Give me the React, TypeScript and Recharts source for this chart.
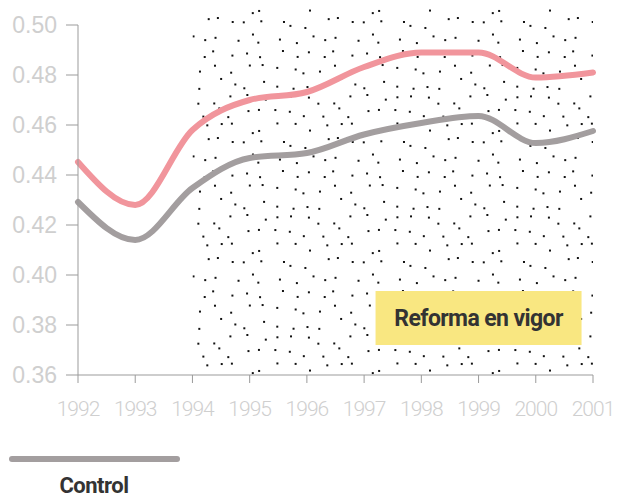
import React from "react";
import { LineChart, Line, XAxis, YAxis, ReferenceArea } from "recharts";

// years on the x axis
const years = [1992, 1993, 1994, 1995, 1996, 1997, 1998, 1999, 2000, 2001];
// pink series (treated group)
const tratados = [0.4452, 0.428, 0.458, 0.47, 0.4732, 0.4832, 0.489, 0.489, 0.479, 0.481];
// grey series (control group)
const control = [0.4292, 0.414, 0.4348, 0.4468, 0.4488, 0.4562, 0.4608, 0.4636, 0.4528, 0.4576];
const yTicks = [0.36, 0.38, 0.4, 0.42, 0.44, 0.46, 0.48, 0.5];

const data = years.map((year, i) => ({ year, tratados: tratados[i], control: control[i] }));

const BOLD = "Roboto, sans-serif";
const SANS = "'Liberation Sans', Arial, sans-serif";

// stippled texture for the "reform in force" period (decoration only)
const dotTile: [number, number][] = (() => {
  const pts: [number, number][] = [];
  let s = 17;
  const rnd = () => {
    s = (s * 9301 + 49297) % 233280;
    return s / 233280;
  };
  for (let i = 0; i < 8; i++)
    for (let j = 0; j < 8; j++) pts.push([i * 15 + 2 + rnd() * 11, j * 15 + 2 + rnd() * 11]);
  return pts;
})();

export default function App() {
  return (
    <div style={{ position: "absolute", left: 0, top: 0, width: 622, height: 498, background: "#fff" }}>
      <LineChart width={622} height={440} data={data} margin={{ top: 25, right: 29, bottom: 0, left: 0 }}>
        <defs>
          <pattern id="dots" width={120} height={120} patternUnits="userSpaceOnUse">
            {dotTile.map(([x, y], i) => (
              <rect key={i} x={x} y={y} width={2} height={2} fill="#111" />
            ))}
          </pattern>
        </defs>
        <XAxis
          dataKey="year"
          type="number"
          domain={[1992, 2001]}
          ticks={years}
          stroke="#9b9b9b"
          tickSize={8}
          tickMargin={18}
          height={65}
          tick={{ fill: "#cfcfcf", fontSize: 21, fontWeight: 300, letterSpacing: -1, fontFamily: "Roboto, sans-serif" }}
        />
        <YAxis
          type="number"
          domain={[0.36, 0.5]}
          ticks={yTicks}
          width={78}
          stroke="#9b9b9b"
          tickSize={12}
          tickMargin={9}
          tickFormatter={(v: number) => v.toFixed(2)}
          tick={{ fill: "#cfcfcf", fontSize: 23, fontFamily: SANS }}
        />
        <ReferenceArea
          x1={1994}
          x2={2001}
          y1={0.36}
          y2={0.507}
          ifOverflow="visible"
          fill="url(#dots)"
          fillOpacity={1}
          stroke="none"
        />
        <ReferenceArea
          x1={1997.2}
          x2={2000.8}
          y1={0.372}
          y2={0.3936}
          ifOverflow="visible"
          fill="#f9e781"
          fillOpacity={1}
          stroke="none"
          label={{
            value: "Reforma en vigor",
            position: "center",
            fill: "#333",
            fontSize: 23,
            fontWeight: 700,
            letterSpacing: -0.6,
            fontFamily: BOLD,
          }}
        />
        <Line
          type="monotone"
          dataKey="control"
          stroke="#a39e9f"
          strokeWidth={6}
          strokeLinecap="round"
          dot={false}
          activeDot={false}
          isAnimationActive={false}
        />
        <Line
          type="monotone"
          dataKey="tratados"
          stroke="#f1959c"
          strokeWidth={6}
          strokeLinecap="round"
          dot={false}
          activeDot={false}
          isAnimationActive={false}
        />
      </LineChart>
      <svg width={622} height={498} style={{ position: "absolute", left: 0, top: 0, pointerEvents: "none" }}>
        <line x1={12} y1={459} x2={177} y2={459} stroke="#a39e9f" strokeWidth={6} strokeLinecap="round" />
        <text x={94} y={493} textAnchor="middle" fill="#333" fontSize={22} fontWeight={700} letterSpacing={-0.5} fontFamily={BOLD}>
          Control
        </text>
      </svg>
    </div>
  );
}
